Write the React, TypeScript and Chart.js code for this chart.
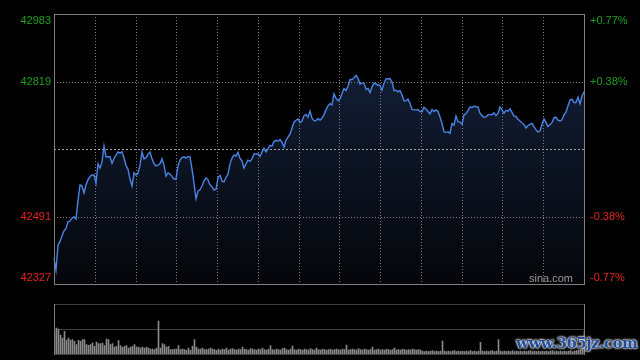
import React, { useEffect, useRef } from 'react';
import { Chart, registerables } from 'chart.js';

Chart.register(...registerables);

// Index price (one point per sampled minute)
const prices = [
  42390, 42361, 42422, 42430, 42444, 42456, 42462, 42478, 42480, 42487,
  42490, 42485, 42531, 42568, 42565, 42548, 42568, 42580, 42588, 42592,
  42592, 42572, 42619, 42609, 42624, 42662, 42636, 42636, 42636, 42620,
  42632, 42640, 42648, 42645, 42648, 42633, 42615, 42606, 42582, 42565,
  42597, 42592, 42596, 42616, 42648, 42631, 42634, 42642, 42648, 42631,
  42619, 42614, 42616, 42619, 42631, 42616, 42589, 42597, 42594, 42588,
  42582, 42582, 42614, 42628, 42634, 42636, 42633, 42637, 42636, 42606,
  42572, 42534, 42553, 42556, 42565, 42577, 42585, 42580, 42568, 42563,
  42555, 42557, 42585, 42591, 42577, 42575, 42586, 42594, 42619, 42633,
  42640, 42638, 42647, 42632, 42626, 42609, 42619, 42628, 42625, 42631,
  42643, 42643, 42643, 42637, 42648, 42657, 42648, 42655, 42664, 42662,
  42673, 42676, 42674, 42678, 42671, 42660, 42677, 42684, 42691, 42706,
  42720, 42725, 42728, 42719, 42723, 42736, 42739, 42732, 42747, 42730,
  42724, 42724, 42729, 42725, 42730, 42738, 42750, 42760, 42765, 42762,
  42789, 42778, 42773, 42777, 42790, 42802, 42797, 42808, 42824, 42824,
  42828, 42834, 42827, 42813, 42815, 42815, 42800, 42802, 42792, 42806,
  42815, 42813, 42810, 42810, 42798, 42815, 42825, 42825, 42826, 42818,
  42797, 42798, 42794, 42797, 42786, 42772, 42772, 42776, 42766, 42751,
  42750, 42750, 42751, 42746, 42746, 42756, 42752, 42746, 42740, 42751,
  42746, 42750, 42746, 42733, 42717, 42697, 42695, 42697, 42693, 42717,
  42713, 42735, 42721, 42721, 42715, 42738, 42740, 42749, 42757, 42756,
  42759, 42758, 42757, 42742, 42736, 42732, 42733, 42738, 42739, 42738,
  42743, 42736, 42742, 42757, 42750, 42742, 42749, 42747, 42753, 42744,
  42735, 42734, 42727, 42723, 42718, 42714, 42706, 42712, 42715, 42717,
  42709, 42702, 42696, 42699, 42715, 42728, 42719, 42710, 42714, 42719,
  42731, 42732, 42725, 42723, 42726, 42738, 42745, 42760, 42774, 42776,
  42768, 42768, 42781, 42765, 42783, 42794,
];

// Traded volume per sample
const volumes = [
  220, 260, 250, 190, 160, 227, 140, 160, 140, 143,
  126, 93, 136, 126, 143, 143, 93, 86, 93, 110,
  76, 120, 103, 103, 110, 83, 150, 143, 93, 103,
  70, 76, 133, 83, 66, 76, 83, 60, 70, 76,
  93, 70, 70, 60, 70, 60, 70, 60, 50, 50,
  43, 60, 330, 60, 103, 93, 70, 76, 43, 43,
  50, 50, 83, 43, 50, 43, 36, 60, 36, 76,
  143, 70, 50, 50, 60, 43, 43, 50, 60, 50,
  43, 36, 50,
  40, 50, 45, 60, 40, 50, 55, 45, 40, 50, 45, 70, 50, 45, 40, 55, 50, 45, 40, 50, 45,
  60, 45, 40, 50, 85, 45, 40, 50, 45, 40, 55, 60, 45, 40, 50, 80, 45, 40, 50, 45,
  40, 50, 45, 40, 55, 45, 40, 60, 45, 40, 50, 45, 40, 45, 50, 40, 45, 50, 45, 40,
  50, 45, 90, 40, 45, 50, 45, 40, 55, 45, 40, 50, 45, 40, 45, 70, 40, 45, 50, 40,
  45, 40, 50, 45, 40, 45, 60, 40, 45, 40, 50, 45, 40, 45, 40, 50, 45, 40, 45, 40,
  30, 25, 30, 25, 30, 35, 25, 30, 25, 30, 130, 30, 25, 30, 25, 30, 35, 25, 30, 25,
  30, 25, 30, 25, 35, 25, 30, 25, 30, 116, 30, 25, 30, 25, 30, 35, 25, 30, 143, 30,
  25, 30, 25, 30, 25, 35, 25, 30, 25, 30, 25, 30, 25, 30, 35, 25, 30, 25, 30, 25,
  30, 25, 30, 25, 30, 35, 25, 30, 25, 30, 25, 30, 25, 30, 35, 25, 30, 35, 40, 45, 60, 226,
];

const labels = prices.map((_, i) => String(i));
const priceMin = 42327;
const priceMax = 42983;
const prevClose = 42655;
const priceTicks = [42983, 42819, 42491, 42327];
const percentTicks = ['+0.77%', '+0.38%', '-0.38%', '-0.77%'];
const volumeMax = 500;
const vDivisions = 13;

const GREEN = '#1ea01e';
const RED = '#e4251d';
const FONT = '11px "Liberation Sans", Arial, sans-serif';

const mainPlugin = {
  id: 'mainDeco',
  beforeDatasetsDraw(chart: any) {
    const { ctx, chartArea: a, scales } = chart;
    const x = scales.x;
    const y = scales.y;
    const n = prices.length - 1;
    ctx.save();
    ctx.lineWidth = 1;
    ctx.strokeStyle = '#808080';
    ctx.setLineDash([1, 2]);
    for (let k = 1; k < vDivisions; k++) {
      const px = Math.round(x.getPixelForValue((k * n) / vDivisions)) + 0.5;
      ctx.beginPath();
      ctx.moveTo(px, a.top);
      ctx.lineTo(px, a.bottom);
      ctx.stroke();
    }
    [priceTicks[1], priceTicks[2]].forEach((v) => {
      const py = Math.round(y.getPixelForValue(v)) + 0.5;
      ctx.beginPath();
      ctx.moveTo(a.left, py);
      ctx.lineTo(a.right, py);
      ctx.stroke();
    });
    ctx.strokeStyle = '#a8a8a8';
    ctx.setLineDash([2, 2]);
    const pm = Math.round(y.getPixelForValue(prevClose)) + 0.5;
    ctx.beginPath();
    ctx.moveTo(a.left, pm);
    ctx.lineTo(a.right, pm);
    ctx.stroke();
    ctx.restore();
  },
  afterDraw(chart: any) {
    const { ctx, chartArea: a, scales } = chart;
    const y = scales.y;
    ctx.save();
    ctx.lineWidth = 1;
    ctx.strokeStyle = '#808080';
    ctx.setLineDash([]);
    ctx.strokeRect(Math.floor(a.left) + 0.5, Math.floor(a.top) + 0.5, Math.round(a.right - a.left), Math.round(a.bottom - a.top));
    ctx.font = FONT;
    ctx.textBaseline = 'middle';
    priceTicks.forEach((v, i) => {
      let py = y.getPixelForValue(v);
      if (py < a.top + 7) py = a.top + 7;
      if (py > a.bottom - 6) py = a.bottom - 6;
      ctx.fillStyle = i < 2 ? GREEN : RED;
      ctx.textAlign = 'right';
      ctx.fillText(String(v), a.left - 3, py);
      ctx.textAlign = 'left';
      ctx.fillText(percentTicks[i], a.right + 6, py);
    });
    ctx.fillStyle = '#9a9a9a';
    ctx.textAlign = 'right';
    ctx.fillText('sina.com', a.right - 11, a.bottom - 5);
    ctx.restore();
  },
};

const volumePlugin = {
  id: 'volDeco',
  afterDraw(chart: any) {
    const { ctx, chartArea: a, scales } = chart;
    const y = scales.y;
    const left = Math.floor(a.left) + 0.5;
    const right = Math.floor(a.right) + 0.5;
    ctx.save();
    ctx.lineWidth = 1;
    ctx.strokeStyle = '#808080';
    ctx.setLineDash([1, 1]);
    [volumeMax, volumeMax / 2, 0].forEach((v) => {
      const py = Math.round(y.getPixelForValue(v)) + 0.5;
      ctx.beginPath();
      ctx.moveTo(left, py);
      ctx.lineTo(right, py);
      ctx.stroke();
    });
    ctx.setLineDash([]);
    const t = Math.round(y.getPixelForValue(volumeMax));
    const b = Math.round(y.getPixelForValue(0)) + 1;
    ctx.beginPath();
    ctx.moveTo(left, t);
    ctx.lineTo(left, b);
    ctx.moveTo(right, t);
    ctx.lineTo(right, b);
    ctx.stroke();
    ctx.restore();
  },
};

export default function App() {
  const mainRef = useRef<HTMLCanvasElement>(null);
  const volRef = useRef<HTMLCanvasElement>(null);

  useEffect(() => {
    document.body.style.margin = '0';
    document.body.style.background = '#000';
    const main = new Chart(mainRef.current as HTMLCanvasElement, {
      type: 'line',
      data: {
        labels,
        datasets: [
          {
            data: prices,
            borderColor: '#4a84e4',
            borderWidth: 1.4,
            pointRadius: 0,
            tension: 0,
            fill: 'start',
            backgroundColor: (c: any) => {
              const area = c.chart.chartArea;
              if (!area) return 'rgba(18,29,52,1)';
              const g = c.chart.ctx.createLinearGradient(0, area.top + 60, 0, area.bottom);
              g.addColorStop(0, 'rgba(18,29,52,1)');
              g.addColorStop(1, 'rgba(4,6,10,1)');
              return g;
            },
          },
        ],
      },
      options: {
        animation: false,
        responsive: false,
        events: [],
        layout: { padding: { left: 54, right: 56, top: 14, bottom: 12 } },
        scales: {
          x: { display: false },
          y: { display: false, min: priceMin, max: priceMax },
        },
        plugins: {
          legend: { display: false },
          tooltip: { enabled: false },
          filler: { drawTime: 'beforeDatasetsDraw' },
        },
      } as any,
      plugins: [mainPlugin],
    });

    const vol = new Chart(volRef.current as HTMLCanvasElement, {
      type: 'bar',
      data: {
        labels,
        datasets: [
          {
            data: volumes,
            backgroundColor: '#8a8a8a',
            barThickness: 1,
            borderWidth: 0,
          },
        ],
      },
      options: {
        animation: false,
        responsive: false,
        events: [],
        layout: { padding: { left: 54.5, right: 55.5, top: 8, bottom: 6 } },
        scales: {
          x: { display: false, offset: false },
          y: { display: false, min: 0, max: volumeMax },
        },
        plugins: {
          legend: { display: false },
          tooltip: { enabled: false },
        },
      } as any,
      plugins: [volumePlugin],
    });

    return () => {
      main.destroy();
      vol.destroy();
    };
  }, []);

  return (
    <div style={{ position: 'relative', width: 640, height: 360, background: '#000', overflow: 'hidden' }}>
      <canvas ref={mainRef} width={640} height={296} style={{ position: 'absolute', left: 0, top: 0, display: 'block' }} />
      <canvas ref={volRef} width={640} height={64} style={{ position: 'absolute', left: 0, top: 296, display: 'block' }} />
      <span
        style={{
          position: 'absolute',
          left: 516,
          top: 334,
          font: 'bold 15px "DejaVu Serif", serif',
          color: '#1f4c9c',
          textShadow: '0 0 2px #fff, 0 0 2px #fff, 0 0 3px #ccc',
          whiteSpace: 'nowrap',
          letterSpacing: '-0.5px',
        }}
      >
        www.365jz.com
      </span>
    </div>
  );
}
